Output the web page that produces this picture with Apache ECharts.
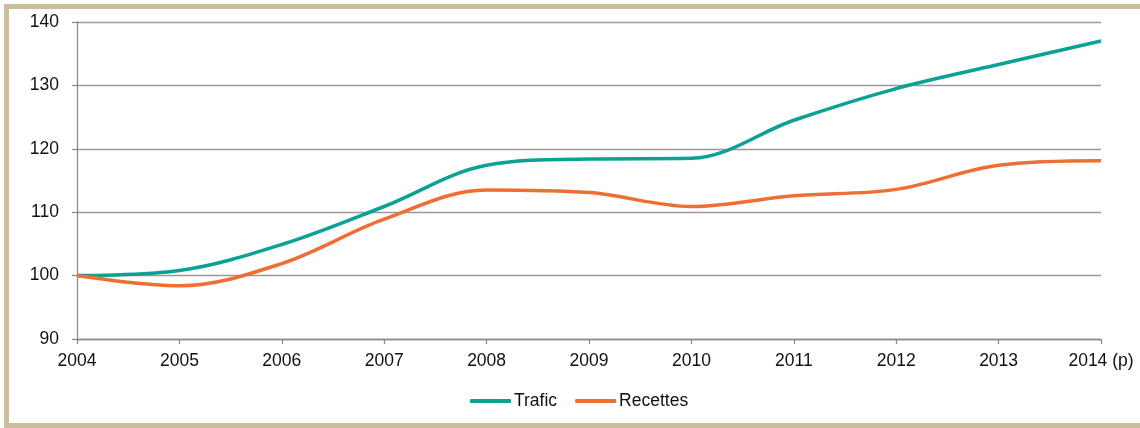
<!DOCTYPE html>
<html>
<head>
<meta charset="utf-8">
<script src="https://cdn.jsdelivr.net/npm/echarts@6/dist/echarts.min.js"></script>
<style>
html,body{margin:0;padding:0;background:#fff;overflow:hidden;width:1140px;height:428px;}
#frame{position:absolute;left:4px;top:4px;width:1131px;height:414px;border:5px solid #CCBD9C;border-right:0;box-sizing:content-box;}
#chart{position:absolute;left:0;top:0;width:1140px;height:428px;}
</style>
</head>
<body>
<div id="frame"></div>
<div id="chart"></div>
<script>
var categories = ['2004','2005','2006','2007','2008','2009','2010','2011','2012','2013','2014 (p)'];
var trafic   = [100, 100.8, 104.9, 110.9, 117.4, 118.4, 118.5, 124.5, 129.5, 133.3, 137.0];
var recettes = [100, 98.4, 101.9, 108.9, 113.5, 113.1, 110.9, 112.6, 113.6, 117.4, 118.1];
var yTicks = { min: 90, max: 140, interval: 10 };

var chart = echarts.init(document.getElementById('chart'));
var ff = '"Liberation Sans", Arial, sans-serif';
chart.setOption({
  animation: false,
  textStyle: { fontFamily: ff, fontSize: 17.5, color: '#111' },
  grid: { left: 77, right: 39, top: 22, bottom: 89 },
  legend: {
    bottom: 13,
    left: 465,
    itemWidth: 41,
    itemHeight: 4,
    itemGap: 18,
    icon: 'roundRect',
    textStyle: { fontFamily: ff, fontSize: 17.5, color: '#111', padding: [0,0,0,-2] },
    data: ['Trafic', 'Recettes']
  },
  xAxis: {
    type: 'category',
    data: categories,
    boundaryGap: false,
    axisLine: { lineStyle: { color: '#8c8c8c', width: 1.3 } },
    axisTick: { show: true, length: 5, alignWithLabel: true, lineStyle: { color: '#8c8c8c', width: 1.3 } },
    axisLabel: { margin: 13, fontFamily: ff, fontSize: 17.5, color: '#111', interval: 0 },
    splitLine: { show: false }
  },
  yAxis: {
    type: 'value',
    min: yTicks.min, max: yTicks.max, interval: yTicks.interval,
    axisLine: { show: true, lineStyle: { color: '#8c8c8c', width: 1.3 } },
    axisTick: { show: true, length: 5, lineStyle: { color: '#8c8c8c', width: 1.3 } },
    axisLabel: { margin: 18, fontFamily: ff, fontSize: 17.5, color: '#111' },
    splitLine: { lineStyle: { color: '#999', width: 1.3 } }
  },
  series: [
    { name: 'Trafic', type: 'line', data: trafic, smooth: 0.35, symbol: 'none',
      lineStyle: { color: '#0BA193', width: 3.5 }, itemStyle: { color: '#0BA193' } },
    { name: 'Recettes', type: 'line', data: recettes, smooth: 0.35, symbol: 'none',
      lineStyle: { color: '#EE6E33', width: 3.5 }, itemStyle: { color: '#EE6E33' } }
  ]
});
</script>
</body>
</html>
